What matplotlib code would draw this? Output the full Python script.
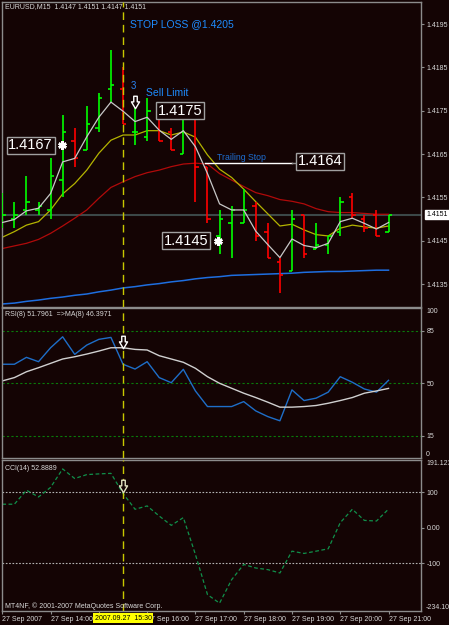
import matplotlib.pyplot as plt
from matplotlib.path import Path
import numpy as np

# EURUSD M15, 27 Sep 2007 13:00 .. 21:00 (one entry per bar)
opens = [1.4151, 1.4150, 1.4152, 1.4152, 1.4152, 1.4159, 1.4168, 1.4166, 1.4171, 1.4180,
         1.4180, 1.4170, 1.4169, 1.4174, 1.4170, 1.4165, 1.4174, 1.4162, 1.4146, 1.4149,
         1.4149, 1.4153, 1.4147, 1.4140, 1.4138, 1.4151, 1.4143, 1.4144, 1.4147, 1.4155,
         1.4150, 1.4151, 1.4147]
highs = [1.4156, 1.4154, 1.4160, 1.4154, 1.4164, 1.4174, 1.4171, 1.4176, 1.4179, 1.4189,
         1.4185, 1.4176, 1.4178, 1.4175, 1.4171, 1.4174, 1.4174, 1.4162, 1.4152, 1.4153,
         1.4157, 1.4154, 1.4149, 1.4141, 1.4152, 1.4151, 1.4149, 1.4146, 1.4155, 1.4156,
         1.4151, 1.4152, 1.4151]
lows = [1.4148, 1.4148, 1.4151, 1.4151, 1.4150, 1.4155, 1.4162, 1.4166, 1.4170, 1.4177,
        1.4172, 1.4167, 1.4168, 1.4168, 1.4166, 1.4165, 1.4154, 1.4149, 1.4142, 1.4141,
        1.4149, 1.4145, 1.4141, 1.4133, 1.4138, 1.4141, 1.4143, 1.4142, 1.4146, 1.4150,
        1.4147, 1.4146, 1.4147]
closes = [1.4151, 1.4151, 1.4154, 1.4153, 1.4160, 1.4170, 1.4164, 1.4172, 1.4178, 1.4181,
          1.4172, 1.4170, 1.4175, 1.4168, 1.4166, 1.4173, 1.4162, 1.4150, 1.4150, 1.4152,
          1.4152, 1.4146, 1.4141, 1.4137, 1.4150, 1.4142, 1.4144, 1.4146, 1.4154, 1.4151,
          1.4148, 1.4146, 1.4151]

ma_white = [1.41492, 1.41499, 1.41519, 1.41525, 1.41559, 1.41632, 1.41640, 1.41690, 1.41735, 1.41770,
            1.41749, 1.41725, 1.41735, 1.41705, 1.41684, 1.41704, 1.41667, 1.41605, 1.41535, 1.41521,
            1.41521, 1.41472, 1.41441, 1.41411, 1.41454, 1.41439, 1.41434, 1.41444, 1.41494, 1.41502,
            1.41490, 1.41477, 1.41492]
ma_yellow = [1.41458, 1.41471, 1.41486, 1.41494, 1.41521, 1.41558, 1.41582, 1.41613, 1.41652, 1.41682,
             1.41694, 1.41694, 1.41704, 1.41704, 1.41694, 1.41701, 1.41689, 1.41648, 1.41615, 1.41596,
             1.41569, 1.41540, 1.41512, 1.41484, 1.41488, 1.41475, 1.41464, 1.41461, 1.41479, 1.41486,
             1.41482, 1.41479, 1.41484]
ma_red = [1.41432, 1.41438, 1.41444, 1.41453, 1.41467, 1.41484, 1.41502, 1.41521, 1.41548, 1.41573,
          1.41586, 1.41598, 1.41607, 1.41613, 1.41621, 1.41627, 1.41629, 1.41627, 1.41605, 1.41590,
          1.41575, 1.41561, 1.41554, 1.41545, 1.41541, 1.41535, 1.41524, 1.41517, 1.41515, 1.41515,
          1.41513, 1.41511, 1.41511]
ma_blue = [1.41304, 1.41306, 1.41310, 1.41313, 1.41317, 1.41320, 1.41324, 1.41327, 1.41332, 1.41336,
           1.41341, 1.41344, 1.41348, 1.41351, 1.41355, 1.41358, 1.41362, 1.41365, 1.41367, 1.41370,
           1.41371, 1.41372, 1.41373, 1.41374, 1.41375, 1.41377, 1.41378, 1.41379, 1.41379, 1.41380,
           1.41381, 1.41382, 1.41382]

rsi = [62.5, 62.5, 67.1, 64.2, 73.5, 80.8, 69.1, 75.3, 79.1, 80.4,
       62.5, 59.3, 64.2, 53.6, 50.2, 59.1, 44.7, 34.3, 34.3, 34.3,
       37.6, 31.4, 27.6, 24.8, 45.4, 38.3, 39.9, 43.9, 54.2, 50.5,
       46.0, 43.9, 51.8]
rsi_ma = [51.4, 53.6, 57.5, 60.2, 63.1, 66.0, 67.5, 69.3, 71.3, 73.5,
          73.5, 72.4, 72.0, 68.2, 66.0, 63.8, 59.8, 54.2, 49.8, 46.5,
          43.2, 40.3, 37.2, 33.9, 33.9, 34.3, 35.0, 36.5, 38.3, 40.3,
          43.2, 44.7, 46.4]
cci = [66.6, 66.6, 106, 87, 114, 166, 139, 150, 152, 153.5,
       97, 52.4, 61.8, 33.4, 7.1, 28.9, -75, -188, -212, -146,
       -103, -113, -117.6, -127, -65.6, -72, -65.6, -59, 14.6, 52.4,
       21, 19.3, 52.9]

# the 15:00 label sits under the highlighted cursor time, so it is left blank
time_ticks = [0, 4, 8, 12, 16, 20, 24, 28, 32]
time_labels = ['27 Sep 2007', '27 Sep 14:00', '', '27 Sep 16:00', '27 Sep 17:00',
               '27 Sep 18:00', '27 Sep 19:00', '27 Sep 20:00', '27 Sep 21:00']
price_ticks = [1.4135, 1.4145, 1.4155, 1.4165, 1.4175, 1.4185, 1.4195]
signal_bar = 10          # 15:30 bar
last_price = 1.4151

BG = '#140404'
EDGE = '#8c8c8c'
TXT = '#d8d8d8'
plt.rcParams['font.family'] = ['Liberation Sans', 'DejaVu Sans']

W, H = 449, 625
fig = plt.figure(figsize=(W / 100, H / 100), dpi=100, facecolor=BG)


def px_box(x0, y0, x1, y1):
    return [x0 / W, 1 - y1 / H, (x1 - x0) / W, (y1 - y0) / H]


ax = fig.add_axes(px_box(2, 2, 421, 307))
ax_rsi = fig.add_axes(px_box(2, 308, 421, 458))
ax_cci = fig.add_axes(px_box(2, 460, 421, 611))

x = np.arange(len(opens))
for a in (ax, ax_rsi, ax_cci):
    a.set_facecolor(BG)
    a.set_xlim(-0.025, 34.69)
    for s in a.spines.values():
        s.set_color(EDGE)
        s.set_linewidth(1)
    a.yaxis.tick_right()
    a.tick_params(axis='y', colors=EDGE, labelcolor=TXT, labelsize=5, length=2.5, pad=1.5)
    a.tick_params(axis='x', bottom=False, labelbottom=False)
    a.axvline(signal_bar, color='#c8c800', lw=1, dashes=(5.5, 3.5), zorder=5)

# hollow down arrow marker
arrow = Path([(-0.28, 1), (0.28, 1), (0.28, 0.1), (0.65, 0.1), (0, -1),
              (-0.65, 0.1), (-0.28, 0.1), (-0.28, 1)], closed=True)

# ---- main price panel ----
ax.set_ylim(1.41297, 1.42001)
ax.set_yticks(price_ticks)
ax.set_yticklabels(['%.4f' % p for p in price_ticks])
ax.axhline(last_price, color='#3c4848', lw=1.5, zorder=1)

ax.plot(x, ma_blue, color='#1e6ee0', lw=1.1, zorder=2)
ax.plot(x, ma_red, color='#b00a0a', lw=0.9, zorder=2)
ax.plot(x, ma_yellow, color='#b4b400', lw=0.9, zorder=2)

up = np.array(closes) >= np.array(opens)
cols = np.where(up, '#00ff00', '#ff0000')
ax.vlines(x, lows, highs, colors=cols, lw=1.2, zorder=3)
ax.hlines(opens, x - 0.28, x, colors=cols, lw=1.2, zorder=3)
ax.hlines(closes, x, x + 0.28, colors=cols, lw=1.2, zorder=3)
ax.plot(x, ma_white, color='#c8c8c8', lw=0.9, zorder=4)

ax.text(1.012, last_price, '%.4f' % last_price, transform=ax.get_yaxis_transform(),
        ha='left', va='center', fontsize=5, color='black', clip_on=False,
        bbox=dict(fc='white', ec='white', pad=0.8))

ax.text(10.58, 1.4195, 'STOP LOSS @1.4205', color='#1e8cff', fontsize=7.5, va='center')
ax.text(10.9, 1.41807, '3', color='#2a82f0', fontsize=7, ha='center', va='center', zorder=7)
ax.text(11.9, 1.41792, 'Sell Limit', color='#1e8cff', fontsize=7.5, va='center')
ax.plot(11, 1.4177, marker=arrow, ms=9, mfc=BG, mec='white', mew=1, zorder=6)

lbl = dict(color='white', fontsize=10.5, va='center',
           bbox=dict(fc=BG, ec='#a0a0a0', lw=1, pad=1.2), zorder=7)
ax.text(12.85, 1.4175, '1.4175', ha='left', **lbl)
ax.text(4.2, 1.4167, '1.4167', ha='right', **lbl)
ax.text(17.05, 1.4145, '1.4145', ha='right', **lbl)
ax.text(28.2, 1.41633, '1.4164', ha='right', **lbl)
ax.plot([4.95, 17.9], [1.4167, 1.4145], ls='none', marker=(6, 2, 0), ms=6,
        mec='white', mew=1.8, zorder=7)

ax.plot([16.8, 24.0], [1.4163, 1.4163], color='white', lw=1, zorder=6)
ax.plot([24.0, 24.55], [1.4163, 1.4163], color='#909090', lw=1, zorder=6)
ax.text(17.8, 1.41642, 'Trailing Stop', color='#1e6ed2', fontsize=6.3, va='center')

# ---- RSI panel ----
ax_rsi.set_ylim(0, 100)
ax_rsi.set_yticks([85, 50, 15])
ax_rsi.set_yticklabels(['85', '50', '15'])
for lv in (85, 50, 15):
    ax_rsi.axhline(lv, color='#0a7a0a', lw=0.8, dashes=(2, 2))
ax_rsi.plot(x, rsi, color='#1e6ec8', lw=1)
ax_rsi.plot(x, rsi_ma, color='#d0d0d0', lw=1)
ax_rsi.plot(signal_bar, 77.3, marker=arrow, ms=9, mfc=BG, mec='white', mew=1, zorder=6)
tr = ax_rsi.get_yaxis_transform()
ax_rsi.text(1.012, 100, '100', transform=tr, va='top', fontsize=5, color=TXT)
ax_rsi.text(1.012, 0, '0', transform=tr, va='bottom', fontsize=5, color=TXT)

# ---- CCI panel ----
ax_cci.set_ylim(-234.107, 191.1239)
ax_cci.set_yticks([100, 0, -100])
ax_cci.set_yticklabels(['100', '0.00', '-100'])
for lv in (100, -100):
    ax_cci.axhline(lv, color='#b4b4b4', lw=0.8, dashes=(1.5, 1.5))
ax_cci.plot(x, cci, color='#10904a', lw=0.9, dashes=(3, 2))
ax_cci.plot(signal_bar, 117.6, marker=arrow, ms=9, mfc=BG, mec='#e0e0c0', mew=1, zorder=6)
tr = ax_cci.get_yaxis_transform()
ax_cci.text(1.012, 191.1239, '191.1239', transform=tr, va='top', fontsize=5, color=TXT)
ax_cci.text(1.012, -234.107, '-234.107', transform=tr, va='bottom', fontsize=5, color=TXT)

ax_cci.set_xticks(time_ticks)
ax_cci.set_xticklabels(time_labels)
ax_cci.tick_params(axis='x', bottom=True, labelbottom=True, length=2, pad=1.5,
                   colors=EDGE, labelcolor=TXT, labelsize=5)
for t in ax_cci.get_xticklabels():
    t.set_horizontalalignment('left')

# titles
fig.text(5 / W, 1 - 7 / H, 'EURUSD,M15  1.4147 1.4151 1.4147 1.4151', color=TXT,
         fontsize=5, va='center')
fig.text(5 / W, 1 - 315 / H, 'RSI(8) 51.7961  =>MA(8) 46.3971', color=TXT,
         fontsize=5, va='center')
fig.text(5 / W, 1 - 468 / H, 'CCI(14) 52.8889', color=TXT, fontsize=5, va='center')
fig.text(5 / W, 1 - 606 / H, 'MT4NF, \u00a9 2001-2007 MetaQuotes Software Corp.',
         color=TXT, fontsize=5, va='center')
fig.text(123 / W, 1 - 618 / H, '2007.09.27  15:30', color='black', fontsize=5,
         ha='center', va='center', bbox=dict(fc='#ffff00', ec='none', pad=1.2))

fig.savefig('out.png', dpi=100, facecolor=BG)
